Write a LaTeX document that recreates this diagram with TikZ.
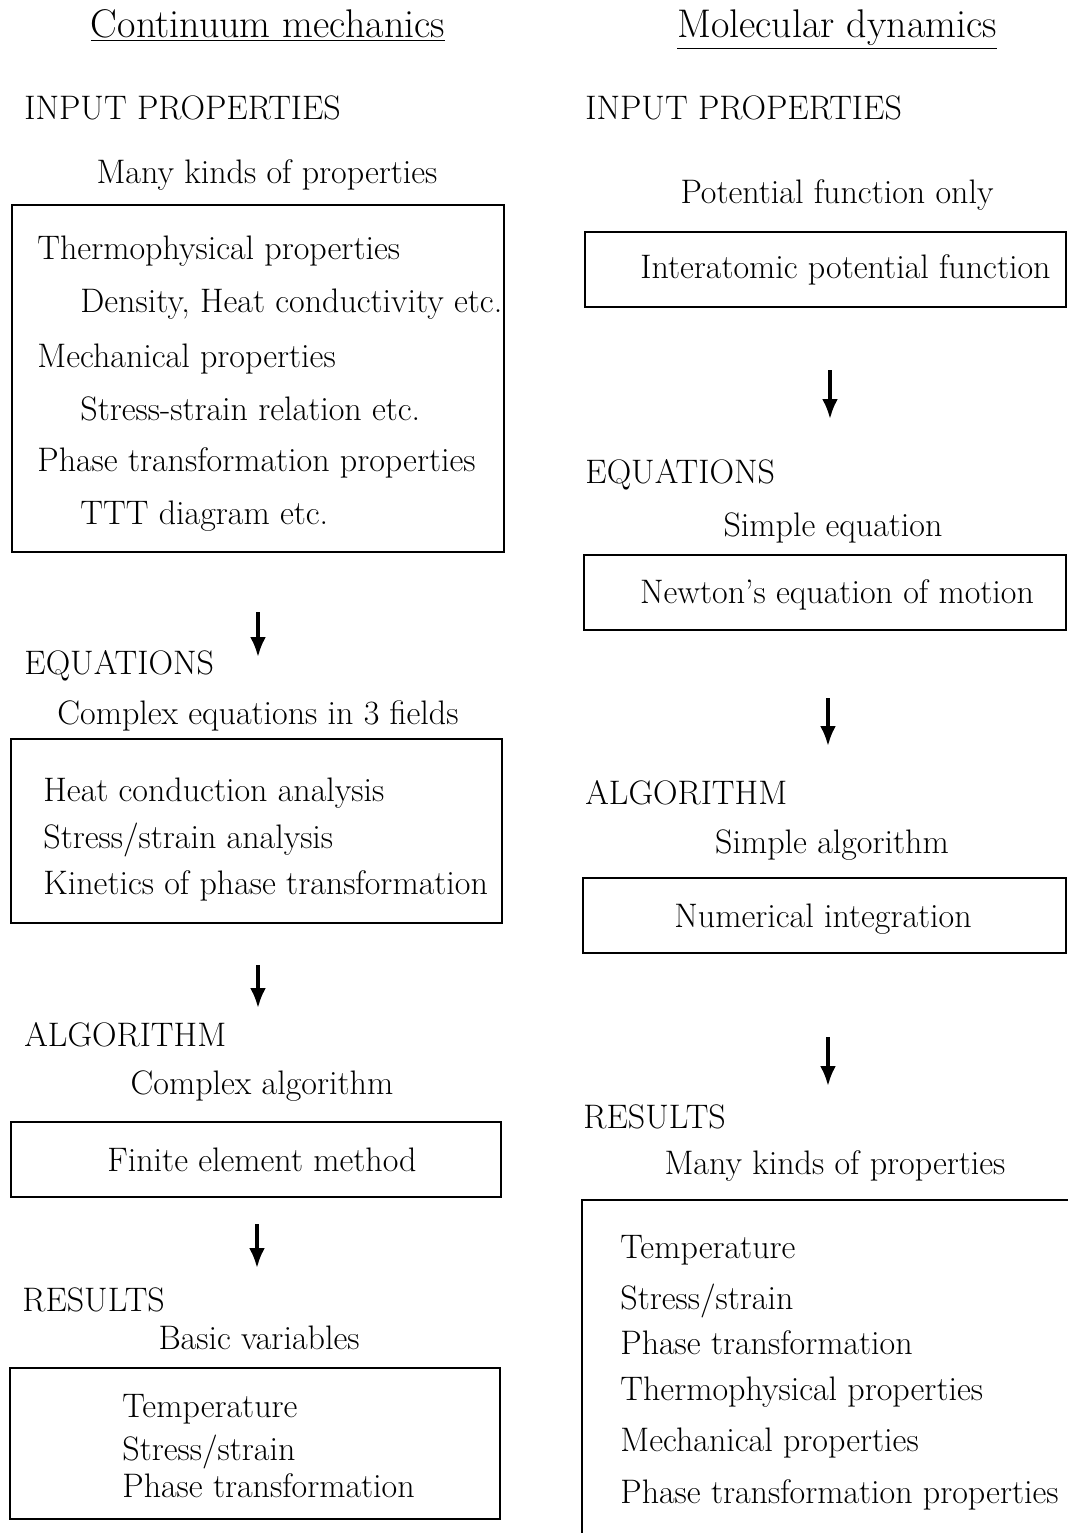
\documentclass[tikz,border=0pt]{standalone}
\usetikzlibrary{arrows.meta,fit}
\tikzset{
  txt/.style={anchor=base west, inner sep=0pt, font=\fontsize{17}{20}\selectfont},
  ctxt/.style={anchor=base, inner sep=0pt, font=\fontsize{17}{20}\selectfont},
  head/.style={anchor=base, inner sep=0pt, font=\fontsize{20}{24}\selectfont},
  frame/.style={draw, line width=0.8pt, inner sep=0pt},
  flow/.style={-{Latex[length=10pt,width=8pt]}, line width=1.8pt},
}
\begin{document}
\begin{tikzpicture}[x=0.5pt,y=-0.5pt]
  \useasboundingbox (0,0) rectangle (1067,1533);

  \node[head] (cmtitle) at (268,37) {\underline{Continuum mechanics}};
  \node[head] (mdtitle) at (837,37) {\underline{Molecular dynamics}};

  \node[txt] (cmin) at (24,119) {INPUT PROPERTIES};
  \node[ctxt] (cminsub) at (267,183) {Many kinds of properties};
  \node[frame, fit={(12,205) (504,552)}] (cminbox) {};
  \node[txt] (cmin1) at (37,259) {Thermophysical properties};
  \node[txt] (cmin2) at (80,312) {Density, Heat conductivity etc.};
  \node[txt] (cmin3) at (37,367) {Mechanical properties};
  \node[txt] (cmin4) at (80,420) {Stress-strain relation etc.};
  \node[txt] (cmin5) at (37,471) {Phase transformation properties};
  \node[txt] (cmin6) at (80,524) {TTT diagram etc.};

  \node[txt] (cmeq) at (24,674) {EQUATIONS};
  \node[ctxt] (cmeqsub) at (258,724) {Complex equations in 3 fields};
  \node[frame, fit={(11,739) (502,923)}] (cmeqbox) {};
  \node[txt] (cmeq1) at (43,801) {Heat conduction analysis};
  \node[txt] (cmeq2) at (43,848) {Stress/strain analysis};
  \node[txt] (cmeq3) at (43,894) {Kinetics of phase transformation};

  \node[txt] (cmalg) at (24,1046) {ALGORITHM};
  \node[ctxt] (cmalgsub) at (262,1094) {Complex algorithm};
  \node[frame, fit={(11,1122) (501,1197)}] (cmalgbox) {};
  \node[ctxt] (cmalg1) at (262,1171) {Finite element method};

  \node[txt] (cmres) at (22,1311) {RESULTS};
  \node[ctxt] (cmressub) at (259,1349) {Basic variables};
  \node[frame, fit={(10,1368) (500,1519)}] (cmresbox) {};
  \node[txt] (cmres1) at (122,1417) {Temperature};
  \node[txt] (cmres2) at (122,1460) {Stress/strain};
  \node[txt] (cmres3) at (122,1497) {Phase transformation};

  \node[txt] (mdin) at (585,119) {INPUT PROPERTIES};
  \node[ctxt] (mdinsub) at (837,203) {Potential function only};
  \node[frame, fit={(585,232) (1066,307)}] (mdinbox) {};
  \node[txt] (mdin1) at (640,278) {Interatomic potential function};

  \node[txt] (mdeq) at (585,483) {EQUATIONS};
  \node[ctxt] (mdeqsub) at (833,536) {Simple equation};
  \node[frame, fit={(584,555) (1066,630)}] (mdeqbox) {};
  \node[ctxt] (mdeq1) at (837,603) {Newton's equation of motion};

  \node[txt] (mdalg) at (585,804) {ALGORITHM};
  \node[ctxt] (mdalgsub) at (832,853) {Simple algorithm};
  \node[frame, fit={(583,878) (1066,953)}] (mdalgbox) {};
  \node[ctxt] (mdalg1) at (823,927) {Numerical integration};

  \node[txt] (mdres) at (583,1128) {RESULTS};
  \node[ctxt] (mdressub) at (835,1174) {Many kinds of properties};
  \node[frame, fit={(582,1200) (1070,1545)}] (mdresbox) {};
  \node[txt] (mdres1) at (620,1258) {Temperature};
  \node[txt] (mdres2) at (620,1309) {Stress/strain};
  \node[txt] (mdres3) at (620,1354) {Phase transformation};
  \node[txt] (mdres4) at (620,1400) {Thermophysical properties};
  \node[txt] (mdres5) at (620,1451) {Mechanical properties};
  \node[txt] (mdres6) at (620,1503) {Phase transformation properties};

  \coordinate (cma1) at (258,612);
  \coordinate (cmb1) at (258,657);
  \coordinate (cma2) at (258,965);
  \coordinate (cmb2) at (258,1008);
  \coordinate (cma3) at (257,1224);
  \coordinate (cmb3) at (257,1268);
  \coordinate (mda1) at (830,370);
  \coordinate (mdb1) at (830,419);
  \coordinate (mda2) at (828,698);
  \coordinate (mdb2) at (828,746);
  \coordinate (mda3) at (828,1037);
  \coordinate (mdb3) at (828,1086);

  \draw[flow] (cma1) -- (cmb1);
  \draw[flow] (cma2) -- (cmb2);
  \draw[flow] (cma3) -- (cmb3);
  \draw[flow] (mda1) -- (mdb1);
  \draw[flow] (mda2) -- (mdb2);
  \draw[flow] (mda3) -- (mdb3);
\end{tikzpicture}
\end{document}
